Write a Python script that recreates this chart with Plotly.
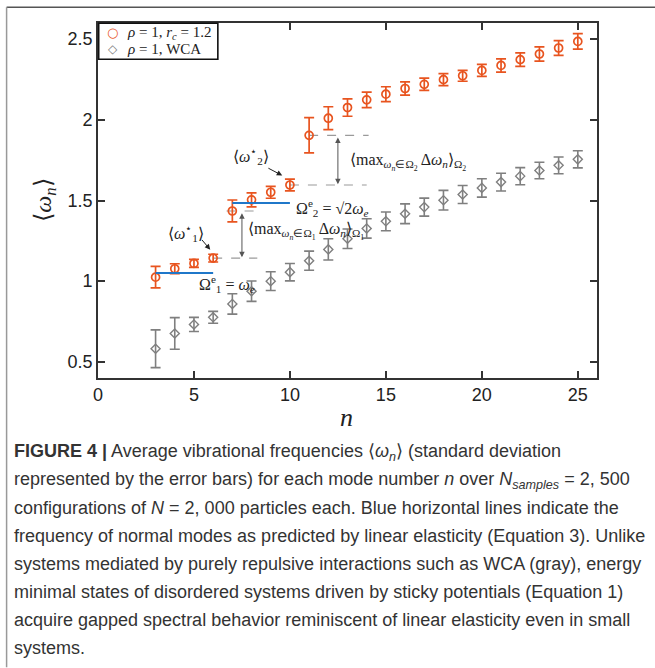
import plotly.graph_objects as go
import numpy as np

# ---------------- data ----------------
n_modes = list(range(3, 26))
red_mean = [1.025, 1.077, 1.110, 1.143, 1.435, 1.504, 1.551, 1.596, 1.904, 2.010, 2.076,
            2.124, 2.159, 2.194, 2.220, 2.249, 2.273, 2.306, 2.337, 2.373, 2.408, 2.445, 2.486]
red_err = [0.067, 0.031, 0.025, 0.024, 0.068, 0.043, 0.037, 0.036, 0.109, 0.071, 0.054,
           0.048, 0.046, 0.041, 0.038, 0.037, 0.034, 0.037, 0.041, 0.042, 0.044, 0.046, 0.048]
gray_mean = [0.581, 0.676, 0.732, 0.776, 0.859, 0.938, 1.000, 1.056, 1.127, 1.197, 1.263,
             1.327, 1.371, 1.418, 1.459, 1.502, 1.537, 1.578, 1.614, 1.651, 1.686, 1.718, 1.755]
gray_err = [0.117, 0.098, 0.044, 0.037, 0.063, 0.063, 0.058, 0.054, 0.059, 0.066, 0.060,
            0.060, 0.058, 0.061, 0.056, 0.061, 0.056, 0.057, 0.055, 0.053, 0.051, 0.052, 0.053]
omega_e = 1.05
shell1_n = [3, 6]
shell2_n = [7, 10]
x_ticks = [0, 5, 10, 15, 20, 25]
y_ticks = [0.5, 1, 1.5, 2, 2.5]
y_tick_labels = ["0.5", "1", "1.5", "2", "2.5"]
legend_labels = ["<i>ρ</i> = 1, <i>r<sub>c</sub></i> = 1.2", "<i>ρ</i> = 1, WCA"]

RED = "#E8541F"
GRAY = "#7F7F7F"
BLUE = "#1F77C9"
SERIF = "Liberation Serif, Times New Roman, serif"
SANS = "Liberation Sans, Arial, sans-serif"

W, H = 655, 668
L, R, T, B = 98.3, 596.7, 22.7, 378.3


def px(xp):
    return (xp - L) / (R - L)


def py(yp):
    return (B - yp) / (B - T)


def val(n):
    return red_mean[n_modes.index(n)]


fig = go.Figure()
fig.add_trace(go.Scatter(
    x=n_modes, y=red_mean, mode="markers", name=legend_labels[0], showlegend=False,
    marker=dict(symbol="circle-open", size=8, color=RED, line=dict(width=1.7, color=RED)),
    error_y=dict(type="data", array=red_err, color=RED, thickness=1.7, width=5),
))
fig.add_trace(go.Scatter(
    x=n_modes, y=gray_mean, mode="markers", name=legend_labels[1], showlegend=False,
    marker=dict(symbol="diamond-open", size=7, color=GRAY, line=dict(width=1.4, color=GRAY)),
    error_y=dict(type="data", array=gray_err, color=GRAY, thickness=1.6, width=5),
))
# blue elasticity lines
fig.add_trace(go.Scatter(x=shell1_n, y=[omega_e] * 2, mode="lines", showlegend=False,
                         line=dict(color=BLUE, width=2)))
fig.add_trace(go.Scatter(x=shell2_n, y=[np.sqrt(2) * omega_e] * 2, mode="lines", showlegend=False,
                         line=dict(color=BLUE, width=2)))

# dashed helper lines
dash_specs = [(6, 8.3, val(6)), (6.7, 8.3, val(7)), (10, 14.0, val(10)), (11, 14.1, val(11))]
for x0, x1, yv in dash_specs:
    fig.add_shape(type="line", x0=x0, x1=x1, y0=yv, y1=yv, xref="x", yref="y",
                  line=dict(color="#9A9A9A", width=1.2, dash="dash"), layer="below")

# double arrows
for xa, y_lo, y_hi in [(7.5, val(6), val(7)), (12.5, val(10), val(11))]:
    fig.add_annotation(x=xa, y=y_lo + 0.005, ax=xa, ay=y_hi - 0.005, xref="x", yref="y",
                       axref="x", ayref="y", text="", showarrow=True, arrowhead=2,
                       arrowside="end+start", arrowsize=1.1, arrowwidth=1, arrowcolor="#555555")

# arrows to omega star labels
fig.add_annotation(x=5.85, y=1.195, ax=5.35, ay=1.265, xref="x", yref="y", axref="x", ayref="y",
                   text="", showarrow=True, arrowhead=2, arrowsize=1.1, arrowwidth=1, arrowcolor="#222")
fig.add_annotation(x=9.6, y=1.655, ax=8.8, ay=1.705, xref="x", yref="y", axref="x", ayref="y",
                   text="", showarrow=True, arrowhead=2, arrowsize=1.1, arrowwidth=1, arrowcolor="#222")

txt = dict(xref="x", yref="y", showarrow=False, yanchor="middle",
           font=dict(family=SERIF, size=16, color="#222"))
fig.add_annotation(x=4.6, y=1.30, xanchor="center", text="⟨<i>ω</i><sup>⋆</sup><sub>1</sub>⟩", **txt)
fig.add_annotation(x=7.95, y=1.775, xanchor="center", text="⟨<i>ω</i><sup>⋆</sup><sub>2</sub>⟩", **txt)
fig.add_annotation(x=7.7, y=1.312, xanchor="left",
                   text="⟨max<sub><i>ω<sub>n</sub></i>∈Ω<sub>1</sub></sub> Δ<i>ω<sub>n</sub></i>⟩<sub>Ω<sub>1</sub></sub>", **txt)
fig.add_annotation(x=13.0, y=1.74, xanchor="left",
                   text="⟨max<sub><i>ω<sub>n</sub></i>∈Ω<sub>2</sub></sub> Δ<i>ω<sub>n</sub></i>⟩<sub>Ω<sub>2</sub></sub>", **txt)
fig.add_annotation(x=10.2, y=1.455, xanchor="left",
                   text="Ω<sup>e</sup><sub>2</sub> = √2<i>ω<sub>e</sub></i>", **txt)
fig.add_annotation(x=5.15, y=0.985, xanchor="left",
                   text="Ω<sup>e</sup><sub>1</sub> = <i>ω<sub>e</sub></i>", **txt)

# axis titles
fig.add_annotation(x=px(45), y=py(200), xref="paper", yref="paper", showarrow=False,
                   xanchor="center", yanchor="middle",
                   text="⟨<i>ω<sub>n</sub></i>⟩", textangle=-90,
                   font=dict(family=SERIF, size=24, color="#222"))
fig.add_annotation(x=px(347), y=py(418), xref="paper", yref="paper", showarrow=False,
                   xanchor="center", yanchor="middle",
                   text="<i>n</i>", font=dict(family=SERIF, size=26, color="#222"))

# manual legend
fig.add_shape(type="rect", xref="paper", yref="paper", x0=px(99), x1=px(218), y0=py(23), y1=py(59),
              fillcolor="white", line=dict(color="#111", width=1.6), layer="above")
leg_sym = [("○", RED, 13), ("◇", GRAY, 12)]
for i, (sym, col, sz) in enumerate(leg_sym):
    yy = py(32.5 + 16 * i)
    fig.add_annotation(x=px(113), y=yy, xref="paper", yref="paper", showarrow=False,
                       xanchor="center", yanchor="middle",
                       text=sym, font=dict(family="DejaVu Sans", size=sz, color=col))
    fig.add_annotation(x=px(125), y=yy, xref="paper", yref="paper", showarrow=False,
                       xanchor="left", yanchor="middle", text=legend_labels[i],
                       font=dict(family=SERIF, size=15, color="#222"))

# caption
caption = [
    "<b>FIGURE 4 |</b> Average vibrational frequencies ⟨<i>ω<sub>n</sub></i>⟩ (standard deviation",
    "represented by the error bars) for each mode number <i>n</i> over <i>N<sub>samples</sub></i> = 2, 500",
    "configurations of <i>N</i> = 2, 000 particles each. Blue horizontal lines indicate the",
    "frequency of normal modes as predicted by linear elasticity (Equation 3). Unlike",
    "systems mediated by purely repulsive interactions such as WCA (gray), energy",
    "minimal states of disordered systems driven by sticky potentials (Equation 1)",
    "acquire gapped spectral behavior reminiscent of linear elasticity even in small",
    "systems.",
]
for i, line in enumerate(caption):
    fig.add_annotation(x=px(12), y=py(453 + 28 * i), xref="paper", yref="paper", showarrow=False,
                       xanchor="left", yanchor="middle", text=line,
                       font=dict(family=SANS, size=18, color="#333"))

# frame lines
fig.add_shape(type="line", xref="paper", yref="paper", x0=px(7), x1=px(655), y0=py(7), y1=py(7),
              line=dict(color="#555", width=1.5))
fig.add_shape(type="line", xref="paper", yref="paper", x0=px(7), x1=px(7), y0=py(7), y1=py(668),
              line=dict(color="#999", width=1.5))

axis_common = dict(showline=True, linewidth=1.6, linecolor="#333", mirror="ticks",
                   ticks="inside", ticklen=7, tickwidth=1.6, tickcolor="#333",
                   showgrid=False, zeroline=False,
                   tickfont=dict(family=SANS, size=18, color="#222"))
fig.update_xaxes(range=[0, 26], tickvals=x_ticks, **axis_common)
fig.update_yaxes(range=[0.4, 2.6], tickvals=y_ticks, ticktext=y_tick_labels, **axis_common)

fig.update_layout(
    width=W, height=H, autosize=False,
    margin=dict(l=L, r=W - R, t=T, b=H - B, pad=0),
    plot_bgcolor="white", paper_bgcolor="white",
    showlegend=False,
)

fig.write_html("out.html")
